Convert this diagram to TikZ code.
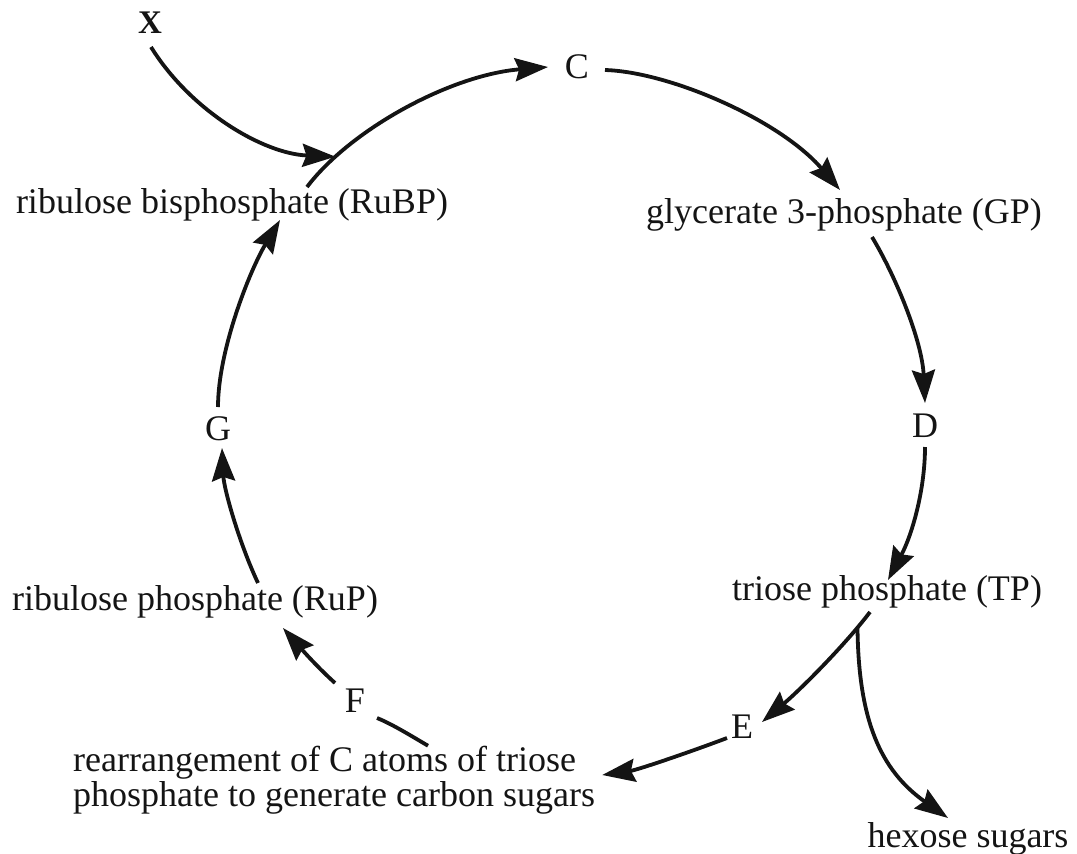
\documentclass[tikz,border=0pt]{standalone}
\usepackage{fontspec}
\setmainfont{Liberation Serif}
\usetikzlibrary{arrows.meta}
\begin{document}
\begin{tikzpicture}[x=1pt,y=-1pt,
  lbl/.style={inner sep=0pt, font=\fontsize{36}{35}\selectfont, anchor=base, text=black!92},
  flow/.style={line width=3.8pt, draw=black!92, -{Stealth[length=33pt,width=23pt,inset=4pt]}},
  plainline/.style={line width=3.8pt, draw=black!92}]
\useasboundingbox (0,0) rectangle (1077,854);

\node[lbl, font=\fontsize{33}{35}\selectfont\bfseries] (X) at (150,33) {X};
\node[lbl] (C) at (577,78) {C};
\node[lbl] (GP) at (844,223) {glycerate 3-phosphate (GP)};
\node[lbl] (D) at (925,437) {D};
\node[lbl] (TP) at (887,600) {triose phosphate (TP)};
\node[lbl] (E) at (742,738) {E};
\node[lbl] (HS) at (968,847) {hexose sugars};
\node[lbl, anchor=west, align=left] (RA) at (73,780) {rearrangement of C atoms of triose\\phosphate to generate carbon sugars};
\node[lbl] (F) at (355,712) {F};
\node[lbl] (RuP) at (195,610) {ribulose phosphate (RuP)};
\node[lbl] (G) at (218,440) {G};
\node[lbl] (RuBP) at (232,213) {ribulose bisphosphate (RuBP)};

% RuBP -> C
\draw[flow] ([shift={(75,-26)}]RuBP.base) .. controls +(43,-57) and +(-98,8) .. coordinate[pos=0.18] (join) ([shift={(-29,-11)}]C.base);
% X -> join
\draw[flow] ([shift={(1,14)}]X.base) .. controls +(39,63) and +(-73,-3) .. (join);
% C -> GP
\draw[flow] ([shift={(28,-8)}]C.base) .. controls +(65,2) and +(-60,-70) .. ([shift={(-4,-33)}]GP.base);
% GP -> D
\draw[flow] ([shift={(28,14)}]GP.base) .. controls +(23,38) and +(-3,-63) .. ([shift={(0,-34)}]D.base);
% D -> TP
\draw[flow] ([shift={(0,10)}]D.base) .. controls +(0,43) and +(24,-45) .. ([shift={(1,-20)}]TP.base);
% TP -> E
\draw[flow] ([shift={(-17,12)}]TP.base) .. controls +(-25,33) and +(38,-32) .. coordinate[pos=0.15] (branch) ([shift={(20,-16)}]E.base);
% branch -> hexose sugars
\draw[flow] (branch) .. controls +(1,92) and +(-68,-48) .. ([shift={(-20,-29)}]HS.base);
% E -> rearrangement
\draw[flow] ([shift={(-15,0)}]E.base) .. controls +(-37,14) and +(35,-5) .. ([shift={(7,-5)}]RA.east);
% rearrangement -- F
\draw[plainline] ([shift={(355,0)}]RA.north west) .. controls +(-17,-10) and +(15,6) .. ([shift={(22,6)}]F.base);
% F -> RuP
\draw[flow] ([shift={(-20,-29)}]F.base) .. controls +(-20,-18) and +(15,17) .. ([shift={(88,18)}]RuP.base);
% RuP -> G
\draw[flow] ([shift={(63,-27)}]RuP.base) .. controls +(-18,-38) and +(2,42) .. ([shift={(4,8)}]G.base);
% G -> RuBP
\draw[flow] ([shift={(0,-33)}]G.base) .. controls +(0,-57) and +(-30,50) .. ([shift={(48,7)}]RuBP.base);
\end{tikzpicture}
\end{document}
